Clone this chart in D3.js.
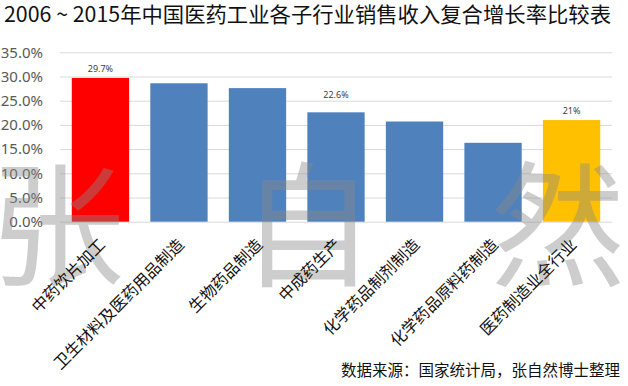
<!DOCTYPE html>
<html><head><meta charset="utf-8">
<script src="https://cdn.jsdelivr.net/npm/d3@7/dist/d3.min.js"></script>
<style>
html,body{margin:0;padding:0;background:#fff;}
svg{display:block;}
</style></head>
<body>
<svg id="c" width="628" height="386"></svg>
<script>
const title = "2006 ~ 2015年中国医药工业各子行业销售收入复合增长率比较表";
const source = "数据来源：国家统计局，张自然博士整理";
const categories = ["中药饮片加工","卫生材料及医药用品制造","生物药品制造","中成药生产","化学药品制剂制造","化学药品原料药制造","医药制造业全行业"];
const values = [29.7, 28.6, 27.6, 22.6, 20.7, 16.3, 21.0];
const barColors = ["#FF0000","#4F81BD","#4F81BD","#4F81BD","#4F81BD","#4F81BD","#FFC000"];
const dataLabels = ["29.7%", null, null, "22.6%", null, null, "21%"];
const yTicks = [0, 5, 10, 15, 20, 25, 30, 35];
const watermark = ["张","自","然"];

const svg = d3.select("#c");
const L = 60, R = 612, T = 52.3, B = 221.7;
const x = d3.scaleBand().domain(categories).range([L, R]).paddingInner(0.27).paddingOuter(0.15);
const y = d3.scaleLinear().domain([0, 35]).range([B, T]);

// title
svg.append("text").attr("x", 4).attr("y", 22)
  .attr("textLength", 607).attr("lengthAdjust", "spacingAndGlyphs")
  .style("font-family", "'Noto Sans CJK SC', sans-serif").style("font-size", "21px").style("fill", "#111")
  .text(title);

// y axis + gridlines
const ya = svg.append("g").attr("transform", `translate(${L},0)`)
  .call(d3.axisLeft(y).tickValues(yTicks).tickSize(-(R - L)).tickPadding(17).tickFormat(d => d.toFixed(1) + "%"));
ya.select(".domain").remove();
ya.selectAll(".tick line").attr("stroke", "#d9d9d9");
ya.selectAll(".tick text").style("font-family", "'Noto Sans', sans-serif").style("font-size", "15px").attr("fill", "#595959");

// bars
svg.append("g").selectAll("rect").data(categories).join("rect")
  .attr("x", d => x(d)).attr("width", x.bandwidth())
  .attr("y", (d, i) => y(values[i])).attr("height", (d, i) => y(0) - y(values[i]))
  .attr("fill", (d, i) => barColors[i]);

// watermark
const wmX = d3.scalePoint().domain(watermark).range([57, 558]);
svg.append("g").selectAll("text").data(watermark).join("text")
  .attr("x", d => wmX(d)).attr("y", 276).attr("text-anchor", "middle")
  .style("font-family", "'Noto Sans CJK SC', sans-serif").style("font-size", "135px")
  .style("fill", "#8a8a8a").style("opacity", 0.42)
  .text(d => d);

// data labels
const lift = i => (i === 3 ? 14 : 6);
svg.append("g").selectAll("text").data(categories.map((c, i) => ({c, i})).filter(d => dataLabels[d.i]))
  .join("text")
  .attr("x", d => x(d.c) + x.bandwidth() / 2)
  .attr("y", d => y(values[d.i]) - lift(d.i))
  .attr("text-anchor", "middle")
  .style("font-family", "'Noto Sans', sans-serif").style("font-size", "9px").style("fill", "#404040")
  .text(d => dataLabels[d.i]);

// x axis labels
const xa = svg.append("g").attr("transform", `translate(0,${B})`)
  .call(d3.axisBottom(x).tickSize(0));
xa.select(".domain").remove();
xa.selectAll(".tick text")
  .attr("x", null).attr("y", null).attr("dy", null)
  .attr("transform", "translate(6,24) rotate(-45)")
  .style("text-anchor", "end")
  .style("font-family", "'Noto Sans CJK SC', sans-serif").style("font-size", "16px").attr("fill", "#111");

// source
svg.append("text").attr("x", 620).attr("y", 376).attr("text-anchor", "end")
  .style("font-family", "'Noto Sans CJK SC', sans-serif").style("font-size", "15.5px").style("fill", "#111")
  .text(source);
</script>
</body></html>
